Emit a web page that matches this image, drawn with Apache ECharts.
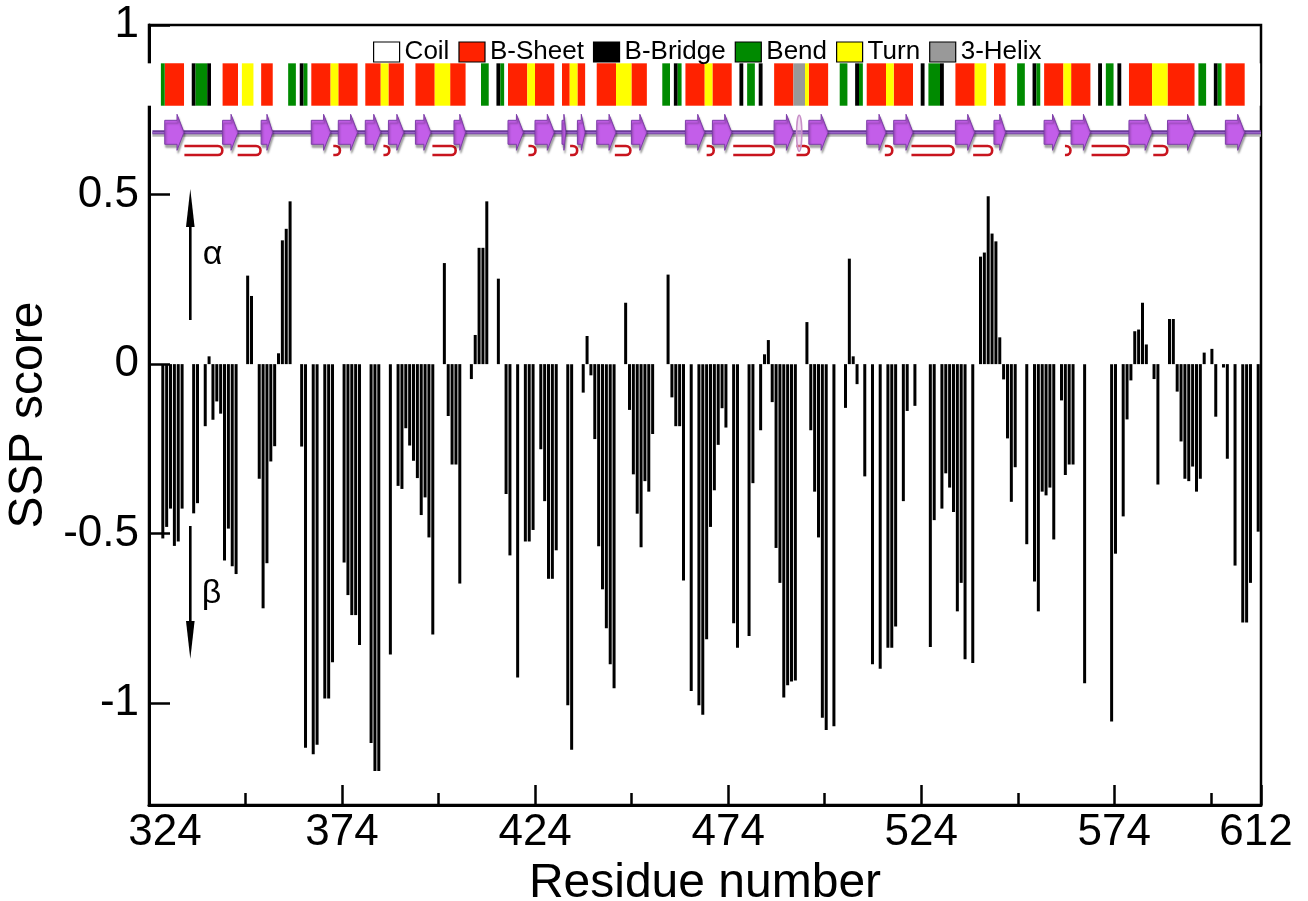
<!DOCTYPE html>
<html><head><meta charset="utf-8">
<script src="https://cdn.jsdelivr.net/npm/echarts@6/dist/echarts.min.js"></script>
<style>html,body{margin:0;padding:0;background:#fff}#c{width:1308px;height:901px}</style>
</head><body><div id="c"></div>
<script>
// ---------------- data ----------------
const residueStart = 324;
const residueEnd = 612;
// SSP score per residue 324..612 (null = no data)
const sspScore = [
 null, null, null, null, -0.514, -0.48, -0.426, -0.536, -0.523, -0.426,
 0, 0, -0.44, -0.41, 0, -0.183, 0.023, -0.164, -0.11, -0.146,
 -0.579, -0.485, -0.596, -0.619, 0, 0, 0.261, 0.201, 0, -0.338,
 -0.72, -0.587, -0.287, -0.242, 0.032, 0.365, 0.399, 0.48, 0, 0,
 -0.243, -1.131, 0, -1.15, -1.122, 0, -0.986, -0.986, -0.879, 0,
 0, -0.585, -0.681, -0.74, -0.74, -0.828, 0, 0, -1.117, -1.2,
 -1.2, 0, 0, -0.856, 0, -0.359, -0.368, -0.189, -0.24, -0.285,
 -0.336, -0.445, -0.393, -0.511, -0.797, 0, 0, 0.298, -0.153, -0.296,
 -0.296, -0.647, 0, 0, -0.044, 0.086, 0.343, 0.343, 0.48, 0,
 0, 0.252, 0, -0.383, -0.564, 0, -0.924, 0, -0.523, -0.523,
 -0.489, 0, -0.251, -0.404, -0.633, -0.633, -0.549, 0, 0, -1.006,
 -1.137, 0, 0, -0.084, 0.083, -0.033, -0.221, -0.537, -0.664, -0.779,
 -0.885, -0.956, 0, 0, 0.181, -0.135, -0.325, -0.441, -0.54, -0.345,
 -0.376, -0.206, 0, 0, 0, 0.264, -0.098, -0.183, -0.183, -0.638,
 0, -0.964, 0, -1.006, -1.034, -0.811, -0.48, -0.372, -0.238, -0.13,
 -0.187, 0, -0.764, -0.836, 0, 0, -0.802, -0.351, 0, -0.195,
 0.029, 0.071, -0.112, -0.542, -0.645, -0.983, -0.947, -0.936, -0.933, 0,
 0, 0.124, -0.195, -0.376, -0.511, -1.043, -1.079, 0, -1.068, 0,
 0, -0.129, 0.311, 0.023, -0.059, 0, -0.331, 0, -0.885, 0,
 -0.898, 0, -0.836, -0.836, -0.774, 0, -0.404, -0.138, 0, -0.123,
 0, 0, 0, -0.834, -0.46, 0, -0.426, -0.322, -0.364, -0.436,
 -0.729, -0.645, -0.87, 0, -0.881, 0, 0.317, 0.329, 0.495, 0.385,
 0.362, 0.079, -0.045, -0.219, -0.406, -0.304, 0, 0, -0.531, 0,
 -0.641, -0.729, -0.376, -0.387, -0.364, -0.517, 0, -0.107, -0.327, -0.296,
 -0.296, 0, 0, -0.941, 0, 0, 0, 0, 0, 0,
 -1.054, -0.559, 0, -0.449, -0.163, -0.048, 0.097, 0.102, 0.181, 0.058,
 0, -0.044, -0.355, 0, 0, 0.133, 0.133, -0.081, -0.228, -0.338,
 -0.345, -0.302, -0.376, -0.338, 0.034, 0, 0.045, -0.155, 0, -0.01,
 -0.279, 0, -0.594, 0, -0.762, -0.762, -0.645, 0, -0.494
];
// DSSP secondary structure per residue 324..612
const ssCodes =
 "CCCCSEEEEE" + "CCBSSSBCCC" + "EEEECTTTCC" + "EEECCCCSSC" + "BSCEEEEETT" +
 "EEEEECCEEE" + "ETTEEEECCC" + "EEEEETTTTE" + "EEECCCCSSC" + "CBSCEEEEET" +
 "TEEEEECCEE" + "TTEECCCEEE" + "EETTTTEEEE" + "CCCCSSCBSC" + "EEEEETTEEE" +
 "EECCBCSSCB" + "CCCEEEEEGG" + "GTEEEEECCC" + "SSCCBSCEEE" + "EETTEEEEEC" +
 "CBCSSSBCCC" + "EEEEETTTCC" + "EEECCCSSCC" + "BSCEEEEETT" + "EEEEECCBCS" +
 "SCBCCEEEEE" + "ETTTTEEEEE" + "EECSSCCBSC" + "EEEEECCCC";
const ssCodeList = ['C', 'E', 'B', 'S', 'T', 'G'];
const ssNames = ['Coil', 'B-Sheet', 'B-Bridge', 'Bend', 'Turn', '3-Helix'];
// topology cartoon: strands (residue ranges), hairpins, helix
const strandFrom = [329,344,354,367,374,381,387,394,404,418,425,432,436,441,450,464,471,487,496,511,518,534,544,557,564,579,589,604];
const strandTo   = [333,347,356,371,378,384,390,397,406,421,429,432,437,445,453,468,475,491,500,515,522,538,546,560,568,584,595,608];
const hairpinFrom = [333.6,347.4,372.2,385.2,397.9,422.8,433.6,445.2,469.0,475.9,492.3,515.2,522.1,538.1,561.9,568.8,584.8];
const hairpinTo   = [343.3,353.2,373.8,386.6,403.8,424.5,435.3,449.1,470.7,486.3,495.4,517.0,532.9,542.9,563.2,578.3,588.3];
const helixAt = [493];
const xLabelValues = [324, 374, 424, 474, 524, 574, 612];
const yTickValues = [-1, -0.5, 0, 0.5, 1];

// ---------------- styles / layout ----------------
const FONT = '"Liberation Sans", Arial, Helvetica, sans-serif';
const ssColors = { C: '#ffffff', E: '#ff2200', B: '#000000', S: '#008a00', T: '#ffff00', G: '#999999' };
const STRIP_TOP = 0.887, STRIP_BOTTOM = 0.762, BACKBONE_Y = 0.6836, HAIRPIN_Y = 0.63;

const residues = sspScore.map((v, i) => residueStart + i);

function runsOf(code) {
  const runs = [];
  let i = 0;
  while (i < ssCodes.length) {
    if (ssCodes[i] === code) {
      let j = i;
      while (j + 1 < ssCodes.length && ssCodes[j + 1] === code) j++;
      runs.push([residueStart + i - 0.5, residueStart + j + 0.5]);
      i = j + 1;
    } else i++;
  }
  return runs;
}

const ssSeries = ssCodeList.map((code, idx) => ({
  type: 'custom',
  name: ssNames[idx],
  xAxisIndex: 1,
  yAxisIndex: 0,
  itemStyle: { color: ssColors[code] },
  encode: { x: [0, 1] },
  data: runsOf(code),
  renderItem: (params, api) => {
    const a = api.coord([api.value(0), STRIP_TOP]);
    const b = api.coord([api.value(1), STRIP_BOTTOM]);
    return { type: 'rect', shape: { x: a[0], y: a[1], width: b[0] - a[0], height: b[1] - a[1] },
      style: { fill: ssColors[code] } };
  },
  z: 3
}));

const backboneSeries = {
  type: 'custom', name: 'backbone', xAxisIndex: 1, yAxisIndex: 0, encode: { x: [0, 1] },
  data: [[residueStart + 1.3, residueEnd + 0.7]],
  renderItem: (params, api) => {
    const a = api.coord([api.value(0), BACKBONE_Y]);
    const b = api.coord([api.value(1), BACKBONE_Y]);
    return { type: 'group', children: [
      { type: 'line', shape: { x1: a[0], y1: a[1] + 3, x2: b[0], y2: b[1] + 3 }, style: { stroke: '#b8b8b8', lineWidth: 3 } },
      { type: 'line', shape: { x1: a[0], y1: a[1], x2: b[0], y2: b[1] }, style: { stroke: '#6a3a98', lineWidth: 4 } },
      { type: 'line', shape: { x1: a[0], y1: a[1] + 0.5, x2: b[0], y2: b[1] + 0.5 }, style: { stroke: '#9a64c8', lineWidth: 1.5 } }
    ] };
  },
  z: 3
};

const strandSeries = {
  type: 'custom', name: 'strands', xAxisIndex: 1, yAxisIndex: 0, encode: { x: [0, 1] },
  data: strandFrom.map((s, i) => [s, strandTo[i]]),
  renderItem: (params, api) => {
    const a = api.coord([api.value(0) - 0.5, BACKBONE_Y]);
    const b = api.coord([api.value(1) + 0.5, BACKBONE_Y]);
    const x1 = a[0], x2 = b[0], cy = a[1];
    const head = Math.min(7, (x2 - x1) * 0.5);
    return { type: 'polygon',
      shape: { points: [[x1, cy - 12], [x2 - head, cy - 12], [x2 - head, cy - 18], [x2, cy], [x2 - head, cy + 18], [x2 - head, cy + 12], [x1, cy + 12]] },
      style: { fill: '#c35ee9', stroke: '#7d3ea8', lineWidth: 1, shadowColor: 'rgba(0,0,0,0.35)', shadowOffsetY: 3, shadowOffsetX: 1, shadowBlur: 2 } };
  },
  z: 4
};

const hairpinSeries = {
  type: 'custom', name: 'hairpins', xAxisIndex: 1, yAxisIndex: 0, encode: { x: [0, 1] },
  data: hairpinFrom.map((s, i) => [s, hairpinTo[i]]),
  renderItem: (params, api) => {
    const a = api.coord([api.value(0), HAIRPIN_Y]);
    const b = api.coord([api.value(1), HAIRPIN_Y]);
    const y = a[1], h = 4.5;
    const xe = Math.max(a[0], b[0] - 4);
    const d = 'M' + a[0] + ' ' + (y - h) + ' L' + xe + ' ' + (y - h) +
      ' C' + (xe + 6) + ' ' + (y - h) + ' ' + (xe + 6) + ' ' + (y + h) + ' ' + xe + ' ' + (y + h) +
      ' L' + a[0] + ' ' + (y + h);
    return { type: 'path', shape: { pathData: d }, style: { fill: 'none', stroke: '#c8141e', lineWidth: 2.6 } };
  },
  z: 3
};

const helixSeries = {
  type: 'custom', name: 'helix', xAxisIndex: 1, yAxisIndex: 0, encode: { x: 0 },
  data: helixAt.map(r => [r]),
  renderItem: (params, api) => {
    const p = api.coord([api.value(0), BACKBONE_Y]);
    return { type: 'ellipse', shape: { cx: p[0], cy: p[1] + 1, rx: 2.6, ry: 18 },
      style: { fill: 'rgba(230,190,230,0.5)', stroke: '#c890c8', lineWidth: 1.5 } };
  },
  z: 5
};

const chart = echarts.init(document.getElementById('c'), null, { renderer: 'canvas' });
chart.setOption({
  animation: false,
  backgroundColor: '#ffffff',
  textStyle: { fontFamily: FONT },
  grid: { left: 149, right: 47, top: 25, bottom: 96, outerBoundsMode: 'none', containLabel: false,
    show: true, borderColor: '#000', borderWidth: 2.5, backgroundColor: 'transparent' },
  legend: {
    data: ssNames, left: 368, top: 34, icon: 'rect', itemWidth: 26, itemHeight: 20, itemGap: 9,
    itemStyle: { borderColor: '#000', borderWidth: 1.2 },
    textStyle: { fontSize: 26, color: '#000', fontFamily: FONT }, selectedMode: false
  },
  xAxis: [
    {
      type: 'value', min: residueStart, max: residueEnd, interval: 50, position: 'bottom',
      axisLine: { show: true, onZero: false, lineStyle: { color: '#000', width: 3 } },
      axisTick: { show: true, inside: true, length: 20, lineStyle: { color: '#000', width: 2.5 } },
      minorTick: { show: true, splitNumber: 2, length: 12, lineStyle: { color: '#000', width: 2.5 } },
      axisLabel: { fontSize: 44, color: '#000', margin: 6, fontFamily: FONT,
        formatter: v => {
          const r = Math.round(v);
          if (xLabelValues.indexOf(r) < 0) return '';
          if (r === residueStart) return '{first|' + r + '}';
          if (r === residueEnd) return '{last|' + r + '}';
          return String(r);
        },
        rich: {
          first: { fontSize: 44, color: '#000', fontFamily: FONT, padding: [0, 0, 0, 32] },
          last: { fontSize: 44, color: '#000', fontFamily: FONT, padding: [0, 10, 0, 0] }
        } },
      splitLine: { show: false }, minorSplitLine: { show: false },
      name: 'Residue number', nameLocation: 'middle', nameGap: 24,
      nameTextStyle: { fontSize: 48, color: '#000', fontFamily: FONT }
    },
    { type: 'value', min: 324.42, max: 612.73, show: false, splitLine: { show: false } }
  ],
  yAxis: {
    type: 'value', min: -1.3, max: 1,
    axisLine: { show: true, onZero: false, lineStyle: { color: '#000', width: 3 } },
    axisTick: { show: true, inside: true, length: 21, customValues: yTickValues, lineStyle: { color: '#000', width: 2.5 } },
    axisLabel: { fontSize: 44, color: '#000', margin: 10, customValues: yTickValues, fontFamily: FONT,
      formatter: v => String(Math.round(v * 100) / 100) },
    splitLine: { show: false },
    name: 'SSP score', nameLocation: 'middle', nameGap: 73,
    nameTextStyle: { fontSize: 48, color: '#000', fontFamily: FONT }
  },
  graphic: [
    { type: 'line', shape: { x1: 190.3, y1: 320, x2: 190.3, y2: 220 }, style: { stroke: '#000', lineWidth: 2.6 }, z: 100 },
    { type: 'polygon', shape: { points: [[190.3, 189], [186, 227], [194.6, 227]] }, style: { fill: '#000' }, z: 100 },
    { type: 'line', shape: { x1: 190.3, y1: 526, x2: 190.3, y2: 626 }, style: { stroke: '#000', lineWidth: 2.6 }, z: 100 },
    { type: 'polygon', shape: { points: [[190.3, 659], [186, 621], [194.6, 621]] }, style: { fill: '#000' }, z: 100 },
    { type: 'text', x: 212.5, y: 255, style: { text: 'α', fill: '#000', font: '34px ' + FONT, align: 'center', verticalAlign: 'middle' }, z: 100 },
    { type: 'text', x: 211.5, y: 594, style: { text: 'β', fill: '#000', font: '34px ' + FONT, align: 'center', verticalAlign: 'middle' }, z: 100 }
  ],
  series: [
    {
      type: 'bar', name: 'SSP', xAxisIndex: 1, yAxisIndex: 0, barWidth: 3,
      itemStyle: { color: '#000' },
      data: residues.map((r, i) => [r, sspScore[i]]),
      z: 2
    },
    ...ssSeries,
    backboneSeries,
    strandSeries,
    hairpinSeries,
    helixSeries
  ]
});
</script>
</body></html>
